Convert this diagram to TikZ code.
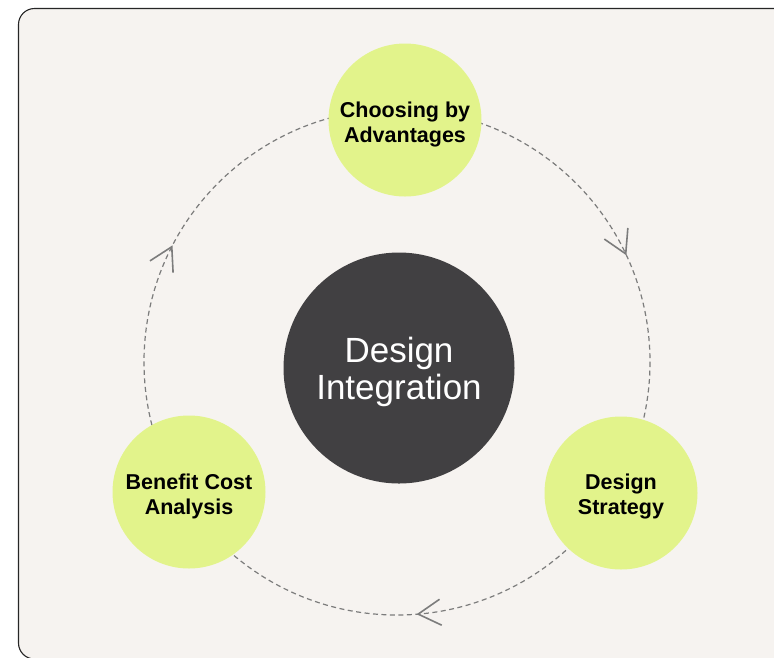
\documentclass[tikz,border=0pt]{standalone}
\usepackage{fontspec}
\setmainfont{Liberation Sans}
\usetikzlibrary{calc}
\definecolor{bgc}{HTML}{F6F3F0}
\definecolor{lime}{HTML}{E2F38B}
\definecolor{darkc}{HTML}{414042}
\definecolor{linec}{HTML}{7C7C7C}
\tikzset{
  panel/.style={draw=black!85, line width=1.1pt, fill=bgc, rounded corners=16pt},
  ring/.style={draw=linec, line width=1.2pt, dash pattern=on 5pt off 3.5pt},
  chev/.style={draw=linec, line width=1.6pt},
  stage/.style={circle, fill=lime, minimum size=153pt, inner sep=0pt},
  stagetext/.style={align=center, inner sep=0pt,
    font=\fontsize{21.5}{25}\selectfont\bfseries, text=black},
  hub/.style={circle, fill=darkc, minimum size=231pt, inner sep=0pt},
  hubtext/.style={align=center, inner sep=0pt,
    font=\fontsize{35}{37}\selectfont, text=white}
}
\begin{document}
\begin{tikzpicture}[x=1pt,y=-1pt]
\useasboundingbox (0,0) rectangle (774,657);
\clip (0,0) rectangle (774,657);
\draw[panel] (18.5,8.5) rectangle (820,659);
\coordinate (c) at (397,362);
\draw[ring] (c) circle[radius=253];
\foreach \a in {-152.9,-25.3,85.2} {
  \path (c) ++(\a:253) coordinate (tip);
  \draw[chev] ($(tip)+(\a-60:26)$) -- (tip) -- ($(tip)+(\a-120:26)$);
}
\node[stage] (cba) at (405,120) {};
\node[stage] (ds) at (621,493) {};
\node[stage] (bca) at (189,492) {};
\node[hub] (di) at (399,368) {};
\node[stagetext] (cbat) at ($(cba)+(0,4)$) {Choosing by\\Advantages};
\node[stagetext] (dst) at ($(ds)+(0,3)$) {Design\\Strategy};
\node[stagetext] (bcat) at ($(bca)+(0,4)$) {Benefit Cost\\Analysis};
\node[hubtext] (dit) at ($(di)+(0,4)$) {Design\\Integration};
\end{tikzpicture}
\end{document}
